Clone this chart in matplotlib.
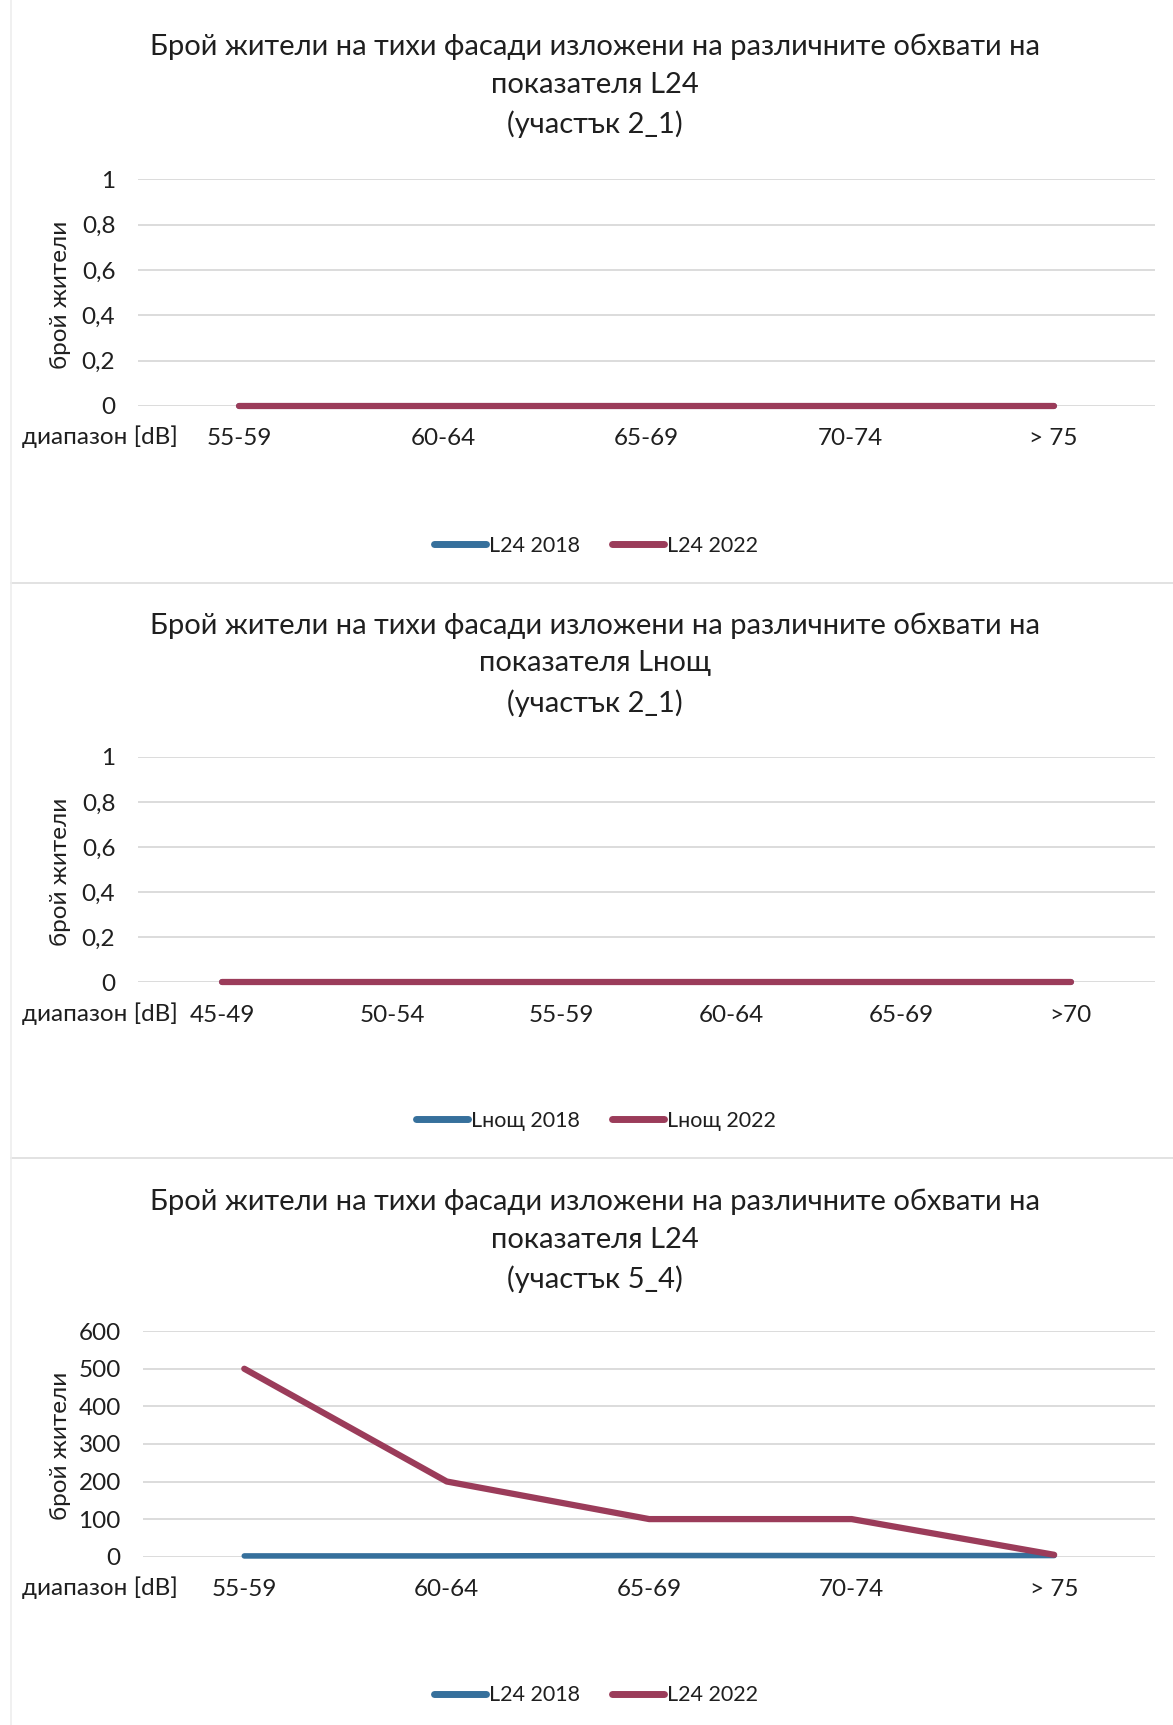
import matplotlib.pyplot as plt
from matplotlib.lines import Line2D

plt.rcParams['font.family'] = ['Lato', 'DejaVu Sans']

# ==========================================
# Data
# ==========================================

cats_l24 = ["55-59", "60-64", "65-69", "70-74", "> 75"]
cats_night = ["45-49", "50-54", "55-59", "60-64", "65-69", ">70"]

l24_21_2018 = [0, 0, 0, 0, 0]
l24_21_2022 = [0, 0, 0, 0, 0]

night_21_2018 = [0, 0, 0, 0, 0, 0]
night_21_2022 = [0, 0, 0, 0, 0, 0]

l24_54_2018 = [2, 2, 3, 3, 3]
l24_54_2022 = [500, 200, 100, 100, 5]

titles = [
    "Брой жители на тихи фасади изложени на различните обхвати на\nпоказателя L24\n(участък 2_1)",
    "Брой жители на тихи фасади изложени на различните обхвати на\nпоказателя Lнощ\n(участък 2_1)",
    "Брой жители на тихи фасади изложени на различните обхвати на\nпоказателя L24\n(участък 5_4)",
]
legend_labels = [
    ["L24 2018", "L24 2022"],
    ["Lнощ 2018", "Lнощ 2022"],
    ["L24 2018", "L24 2022"],
]

BLUE = "#36709c"
RED = "#9b3c5a"
TXT = "#1f1f1f"
GRID = "#d9d9d9"

W, H = 1066, 1568  # layout measured on the shrunk reference


def fx(x):
    return x / W


def fy(y):
    return 1 - y / H


fig = plt.figure(figsize=(11.73, 17.25), dpi=100)

panels = [
    # cats, s2018, s2022, yticks, ylabels, top, bottom, title_y, legend_y, left
    (cats_l24, l24_21_2018, l24_21_2022, [0, 0.2, 0.4, 0.6, 0.8, 1],
     ["0", "0,2", "0,4", "0,6", "0,8", "1"], 163, 369, 78, 496, 125),
    (cats_night, night_21_2018, night_21_2022, [0, 0.2, 0.4, 0.6, 0.8, 1],
     ["0", "0,2", "0,4", "0,6", "0,8", "1"], 688, 893, 604, 1019, 125),
    (cats_l24, l24_54_2018, l24_54_2022, [0, 100, 200, 300, 400, 500, 600],
     ["0", "100", "200", "300", "400", "500", "600"], 1210, 1415, 1128, 1541, 130),
]

for i, (cats, s18, s22, yt, yl, top, bot, ty, ly, left) in enumerate(panels):
    ax = fig.add_axes([fx(left), fy(bot), fx(1050) - fx(left), fy(top) - fy(bot)])
    x = range(len(cats))
    ax.plot(x, s18, color=BLUE, lw=4, solid_capstyle="round", zorder=3, clip_on=False)
    ax.plot(x, s22, color=RED, lw=4.5, solid_capstyle="round", zorder=4, clip_on=False)

    ax.set_xlim(-0.5, len(cats) - 0.5)
    ax.set_ylim(yt[0], yt[-1])
    ax.set_yticks(yt)
    ax.set_yticklabels(yl)
    ax.set_xticks(list(x))
    ax.set_xticklabels(cats)
    ax.tick_params(length=0, labelsize=17.5, colors=TXT, pad=16)
    ax.tick_params(axis="x", pad=16)
    ax.yaxis.grid(True, color=GRID, lw=1.3)
    ax.set_axisbelow(True)
    for s in ax.spines.values():
        s.set_visible(False)

    fig.text(fx(55), fy((top + bot) / 2 + 2), "брой жители", fontsize=17.5, color=TXT,
             rotation=90, ha="center", va="center")
    fig.text(fx(20), fy(bot + 28), "диапазон [dB]", fontsize=17.5, color=TXT,
             ha="left", va="center")
    fig.text(0.5075, fy(ty), titles[i], fontsize=21, color=TXT,
             ha="center", va="center", linespacing=1.56)

    handles = [Line2D([], [], color=BLUE, lw=5, solid_capstyle="round"),
               Line2D([], [], color=RED, lw=5, solid_capstyle="round")]
    fig.legend(handles, legend_labels[i], loc="center", ncol=2,
               bbox_to_anchor=(0.508, fy(ly)), frameon=False, fontsize=15.5,
               handlelength=2.4, handletextpad=0.15, columnspacing=1.5,
               labelcolor=TXT)

# chart box borders from the scanned page
for yy in [530, 1053]:
    fig.add_artist(Line2D([fx(10), fx(1066)], [fy(yy), fy(yy)], color="#dddddd", lw=1.2))
fig.add_artist(Line2D([fx(10), fx(10)], [0, 1], color="#eeeeee", lw=1.2))

fig.savefig("out.png", dpi=100, facecolor="white")
